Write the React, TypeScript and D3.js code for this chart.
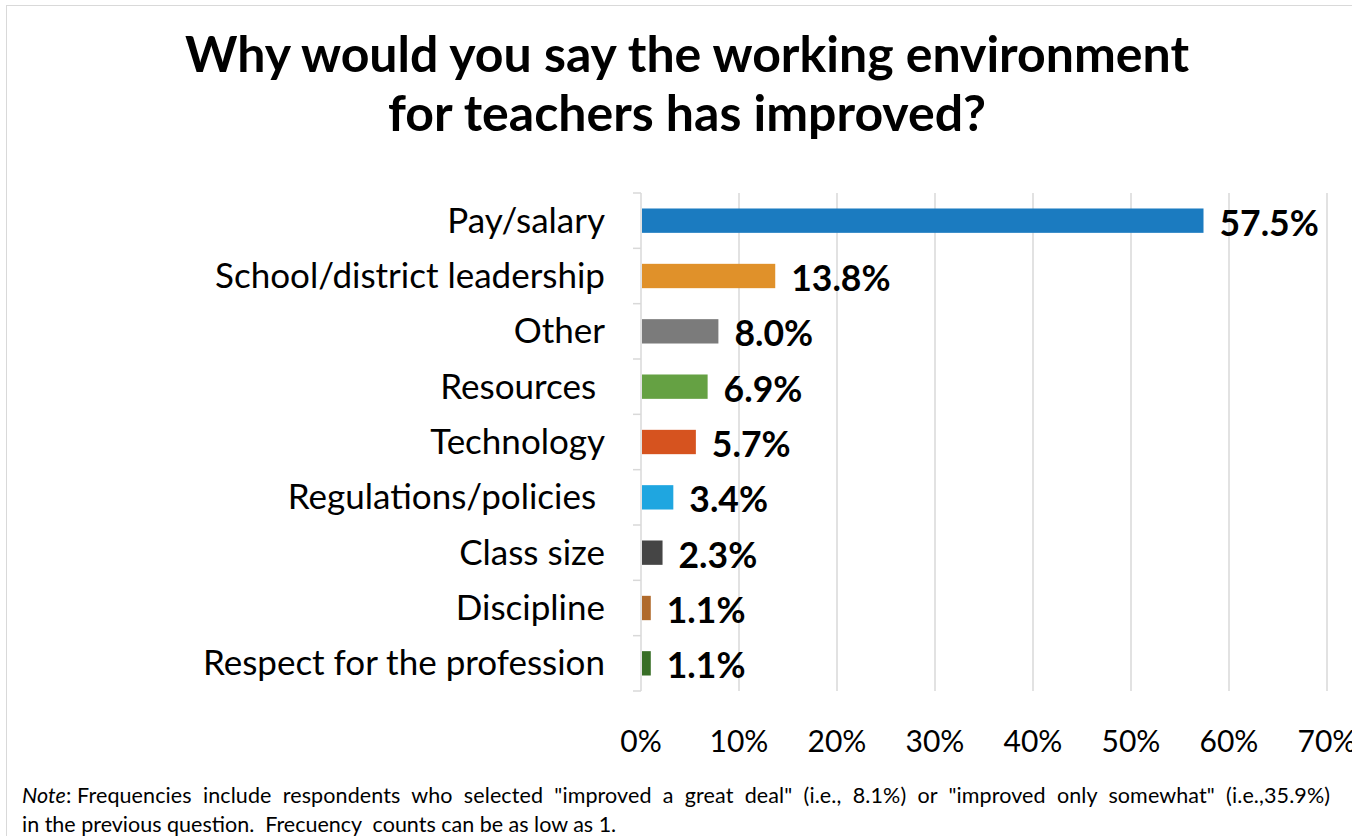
import React from "react";
import * as d3 from "d3";

const categories = [
  "Pay/salary",
  "School/district leadership",
  "Other",
  "Resources ",
  "Technology",
  "Regulations/policies ",
  "Class size",
  "Discipline",
  "Respect for the profession",
];
const values = [57.5, 13.8, 8.0, 6.9, 5.7, 3.4, 2.3, 1.1, 1.1];
const colors = [
  "#1b7bc0",
  "#e0912a",
  "#7b7b7b",
  "#65a143",
  "#d6531f",
  "#1fa6e0",
  "#454545",
  "#b06a2c",
  "#386e26",
];
const xTicks = [0, 10, 20, 30, 40, 50, 60, 70];
const titleLines = [
  "Why would you say the working environment",
  "for teachers has improved?",
];

const W = 1352;
const H = 836;
const FONT = "Lato, 'Open Sans', sans-serif";

export default function App() {
  const x = d3.scaleLinear().domain([0, 70]).range([641, 1327]);
  const y = d3
    .scaleBand<string>()
    .domain(categories)
    .range([193, 691])
    .paddingInner(0.56)
    .paddingOuter(0.28);
  const step = y.step();
  const bounds = d3.range(categories.length + 1).map((i) => 193 + i * step);

  return (
    <div style={{ position: "absolute", left: 0, top: 0 }}>
      <svg width={W} height={H} style={{ display: "block", background: "#fff" }}>
        <rect x={6.5} y={5.5} width={W} height={H} fill="#fff" stroke="#d9d9d9" strokeWidth={1} />
        {titleLines.map((t, i) => (
          <text
            key={i}
            x={687}
            y={72 + i * 59}
            textAnchor="middle"
            fontFamily={FONT}
            fontWeight={700}
            fontSize={50}
            fill="#000"
          >
            {t}
          </text>
        ))}
        {xTicks.slice(1).map((t) => (
          <line key={t} x1={x(t)} x2={x(t)} y1={193} y2={691} stroke="#d9d9d9" strokeWidth={1.5} />
        ))}
        <line x1={x(0)} x2={x(0)} y1={193} y2={691} stroke="#d9d9d9" strokeWidth={1.5} />
        {bounds.map((b, i) => (
          <line key={i} x1={633} x2={x(0)} y1={b} y2={b} stroke="#d9d9d9" strokeWidth={1.5} />
        ))}
        {categories.map((c, i) => {
          const yy = y(c)!;
          const bw = y.bandwidth();
          return (
            <g key={c}>
              <rect x={x(0) + 1} y={yy} width={x(values[i]) - x(0) - 2} height={bw} fill={colors[i]} />
              <text
                x={605}
                y={yy + bw / 2 + 12}
                textAnchor="end"
                fontFamily={FONT}
                fontSize={35}
                fill="#000"
                style={{ whiteSpace: "pre" }}
              >
                {c}
              </text>
              <text
                x={x(values[i]) + 15}
                y={yy + bw / 2 + 15}
                fontFamily={FONT}
                fontWeight={700}
                fontSize={35.5}
                fill="#000"
              >
                {values[i].toFixed(1) + "%"}
              </text>
            </g>
          );
        })}
        {xTicks.map((t) => (
          <text
            key={t}
            x={x(t)}
            y={752}
            textAnchor="middle"
            fontFamily={FONT}
            fontSize={30}
            fill="#000"
          >
            {t + "%"}
          </text>
        ))}
        <text
          x={22}
          y={803}
          fontFamily={FONT}
          fontSize={21.5}
          fill="#000"
          textLength={1308}
          lengthAdjust="spacing"
          style={{ whiteSpace: "pre" }}
        >
          <tspan fontStyle="italic">Note</tspan>
          <tspan>: Frequencies  include  respondents  who  selected  "improved  a  great  deal"  (i.e.,  8.1%)  or  "improved  only  somewhat"  (i.e.,35.9%)</tspan>
        </text>
        <text x={22} y={832} fontFamily={FONT} fontSize={21.5} fill="#000" style={{ whiteSpace: "pre" }}>
          in the previous question.  Frecuency  counts can be as low as 1.
        </text>
      </svg>
    </div>
  );
}
